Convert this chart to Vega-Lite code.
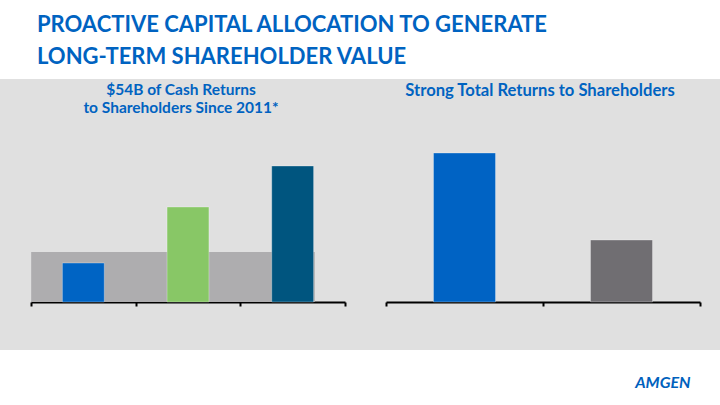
{
  "$schema": "https://vega.github.io/schema/vega-lite/v6.json",
  "width": 720,
  "height": 271,
  "autosize": {"type": "none"},
  "padding": {"left": 0, "right": 0, "top": 79, "bottom": 55},
  "background": "white",
  "config": {"view": {"fill": "#E0E0E0", "stroke": null}, "font": "Lato"},
  "title": {
    "text": ["PROACTIVE CAPITAL ALLOCATION TO GENERATE", "LONG-TERM SHAREHOLDER VALUE"],
    "anchor": "start",
    "frame": "group",
    "dx": 37,
    "font": "Lato",
    "fontSize": 22,
    "fontWeight": "bold",
    "color": "#0063C1",
    "lineHeight": 32,
    "offset": 10
  },
  "layer": [
    {
      "layer": [
        {
          "data": {"values": [{"cat": "Bar 2", "v": 5.0}]},
          "mark": {"type": "bar", "width": {"band": 2.71}, "xOffset": -15, "color": "#AEADAF"},
          "encoding": {
            "x": {
              "field": "cat", "type": "nominal", "sort": null,
              "scale": {"domain": ["Bar 1", "Bar 2", "Bar 3"], "range": [31, 345], "paddingInner": 0, "paddingOuter": 0},
              "axis": {"orient": "bottom", "offset": -48, "labels": false, "title": null, "grid": false,
                "domainColor": "#000000", "domainWidth": 2, "tickColor": "#000000", "tickWidth": 2, "tickSize": 4, "tickBand": "extent"}
            },
            "y": {"field": "v", "type": "quantitative", "scale": {"domain": [-4.8, 22.3], "nice": false, "zero": false}, "axis": null}
          }
        },
        {
          "data": {"values": [
            {"cat": "Bar 1", "v": 3.9},
            {"cat": "Bar 2", "v": 9.5},
            {"cat": "Bar 3", "v": 13.6}
          ]},
          "mark": {"type": "bar", "width": {"band": 0.4}, "stroke": "#FFFFFF", "strokeOpacity": 0.3, "strokeWidth": 1},
          "encoding": {
            "x": {
              "field": "cat", "type": "nominal", "sort": null,
              "scale": {"domain": ["Bar 1", "Bar 2", "Bar 3"], "range": [31, 345], "paddingInner": 0, "paddingOuter": 0},
              "axis": {"orient": "bottom", "offset": -48, "labels": false, "title": null, "grid": false,
                "domainColor": "#000000", "domainWidth": 2, "tickColor": "#000000", "tickWidth": 2, "tickSize": 4, "tickBand": "extent"}
            },
            "y": {"field": "v", "type": "quantitative", "scale": {"domain": [-4.8, 22.3], "nice": false, "zero": false}, "axis": null},
            "color": {"field": "cat", "type": "nominal", "scale": {"domain": ["Bar 1", "Bar 2", "Bar 3"], "range": ["#0064C4", "#88C766", "#00557F"]}, "legend": null}
          }
        },
        {
          "data": {"values": [{"label": "left"}]},
          "mark": {"type": "text", "align": "center", "baseline": "alphabetic", "fontSize": 15.5, "fontWeight": "bold", "color": "#0063C1", "lineHeight": 18, "dx": -7},
          "encoding": {
            "x": {"datum": "Bar 2", "type": "nominal"},
            "y": {"datum": 20.7, "type": "quantitative"},
            "text": {"value": ["$54B of Cash Returns", "to Shareholders Since 2011*"]}
          }
        }
      ]
    },
    {
      "layer": [
        {
          "data": {"values": [
            {"grp": "Bar A", "r": 298},
            {"grp": "Bar B", "r": 124}
          ]},
          "mark": {"type": "bar", "width": {"band": 0.395}, "stroke": "#FFFFFF", "strokeOpacity": 0.3, "strokeWidth": 1},
          "encoding": {
            "x": {
              "field": "grp", "type": "nominal", "sort": null,
              "scale": {"domain": ["Bar A", "Bar B"], "range": [386, 700], "paddingInner": 0, "paddingOuter": 0},
              "axis": {"orient": "bottom", "offset": -48, "labels": false, "title": null, "grid": false,
                "domainColor": "#000000", "domainWidth": 2, "tickColor": "#000000", "tickWidth": 2, "tickSize": 4, "tickBand": "extent"}
            },
            "y": {"field": "r", "type": "quantitative", "scale": {"domain": [-96, 446], "nice": false, "zero": false}, "axis": null},
            "color": {"field": "grp", "type": "nominal", "scale": {"domain": ["Bar A", "Bar B"], "range": ["#0063C4", "#706E72"]}, "legend": null}
          }
        },
        {
          "data": {"values": [{"label": "right"}]},
          "mark": {"type": "text", "align": "center", "baseline": "alphabetic", "fontSize": 16.6, "fontWeight": "bold", "color": "#0063C1", "dx": -3},
          "encoding": {
            "x": {"datum": "Bar A", "type": "nominal", "bandPosition": 1},
            "y": {"datum": 412, "type": "quantitative"},
            "text": {"value": "Strong Total Returns to Shareholders"}
          }
        },
        {
          "data": {"values": [{"label": "logo"}]},
          "mark": {"type": "text", "align": "right", "baseline": "alphabetic", "fontSize": 16, "fontWeight": "bold", "fontStyle": "italic", "color": "#0061BD"},
          "encoding": {
            "x": {"datum": "Bar B", "type": "nominal", "bandPosition": 0.94},
            "y": {"datum": -172, "type": "quantitative"},
            "text": {"value": "AMGEN"}
          }
        }
      ]
    }
  ],
  "resolve": {
    "scale": {"x": "independent", "y": "independent", "color": "independent"}
  }
}
